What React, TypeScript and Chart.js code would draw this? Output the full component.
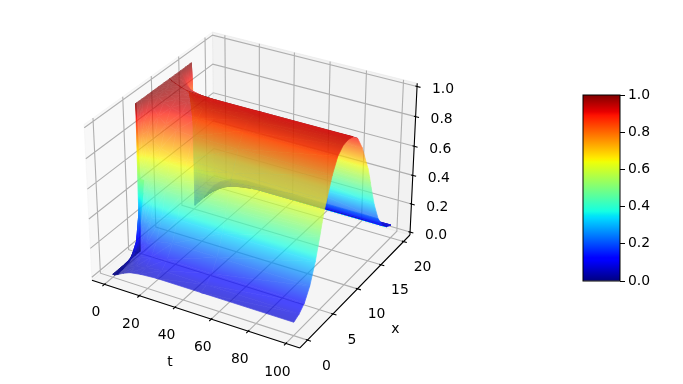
import React, { useEffect, useRef } from "react";
import { Chart, registerables } from "chart.js";

Chart.register(...registerables);

const FONT = '13.9px "DejaVu Sans"';

// axis limits and ticks
const tLimits = [-5, 105];
const xLimits = [-1, 21];
const zLimits = [0, 1];
const tTicks = [0, 20, 40, 60, 80, 100];
const xTicks = [0, 5, 10, 15, 20];
const zTicks = [0, 0.2, 0.4, 0.6, 0.8, 1.0];
const colorbarTicks = [0, 0.2, 0.4, 0.6, 0.8, 1.0];

// surface grid
const xGrid = [0, 1, 2, 3, 4, 4.8, 5, 5.2, 5.6, 6, 7, 8, 9, 10, 11, 12, 13, 14, 14.4, 14.8, 15, 15.2, 16, 17, 18, 19, 20];
const tGrid = [0, 1, 3, 6, 10, 16, 25, 50, 100];
const uT0 = [0, 0, 0, 0, 0, 0, 1, 1, 1, 1, 1, 1, 1, 1, 1, 1, 1, 1, 1, 1, 1, 0, 0, 0, 0, 0, 0];
const uT1 = [0, 0, .01, .02, .08, .35, .5, .62, .78, .86, .97, .985, .99, .99, .99, .985, .97, .86, .78, .62, .5, .35, .08, .02, .01, 0, 0];
const uT3 = [.01, .02, .03, .06, .18, .42, .5, .58, .72, .8, .93, .97, .98, .985, .98, .97, .93, .8, .72, .58, .5, .42, .18, .06, .03, .02, .01];
const uT6 = [.03, .04, .06, .11, .24, .45, .51, .57, .67, .74, .88, .945, .965, .97, .965, .945, .88, .74, .67, .57, .51, .45, .24, .11, .06, .04, .03];
const uT10 = [.05, .06, .09, .15, .29, .47, .52, .57, .65, .71, .84, .92, .95, .955, .95, .92, .84, .71, .65, .57, .52, .47, .29, .15, .09, .06, .05];
const uT16 = [.062, .075, .115, .19, .32, .48, .52, .56, .64, .69, .82, .905, .945, .95, .945, .905, .82, .69, .64, .56, .52, .48, .32, .19, .115, .075, .062];
const uT25 = [.07, .09, .13, .21, .34, .48, .52, .56, .63, .68, .81, .9, .94, .95, .94, .9, .81, .68, .63, .56, .52, .48, .34, .21, .13, .09, .07];
const uT50 = [.07, .09, .13, .21, .34, .48, .52, .56, .63, .68, .81, .9, .94, .95, .94, .9, .81, .68, .63, .56, .52, .48, .34, .21, .13, .09, .07];
const uT100 = [.07, .09, .13, .21, .34, .48, .52, .56, .63, .68, .81, .9, .94, .95, .94, .9, .81, .68, .63, .56, .52, .48, .34, .21, .13, .09, .07];
const uRows = [uT0, uT1, uT3, uT6, uT10, uT16, uT25, uT50, uT100];

// jet colormap nodes
const jetStops = [0, .11, .125, .34, .35, .375, .64, .65, .66, .89, .91, 1];
function ramp(nodes: number[][], v: number) {
  for (let i = 1; i < nodes.length; i++) {
    if (v <= nodes[i][0]) {
      const [a, b] = [nodes[i - 1], nodes[i]];
      return a[1] + ((b[1] - a[1]) * (v - a[0])) / (b[0] - a[0]);
    }
  }
  return nodes[nodes.length - 1][1];
}
function jet(v: number) {
  const r = ramp([[0, 0], [.35, 0], [.66, 1], [.89, 1], [1, .5]], v);
  const g = ramp([[0, 0], [.125, 0], [.375, 1], [.64, 1], [.91, 0], [1, 0]], v);
  const b = ramp([[0, .5], [.11, 1], [.34, 1], [.65, 0], [1, 0]], v);
  return `rgb(${Math.round(r * 255)},${Math.round(g * 255)},${Math.round(b * 255)})`;
}

// matplotlib style view: elev 30, azim -60, box 4:4:3
const W = [0.43301, -0.75, 0.5];
const U = [0.86603, 0.5, 0];
const V = [-0.25, 0.43301, 0.86603];
const BOX = [1.19048, 1.19048, 0.89286];
const frac = (v: number, l: number[]) => (v - l[0]) / (l[1] - l[0]);
const dot = (a: number[], b: number[]) => a[0] * b[0] + a[1] * b[1] + a[2] * b[2];
function fromFrac(f: number[]) {
  const q = [(f[0] - .5) * BOX[0], (f[1] - .5) * BOX[1], (f[2] - .5) * BOX[2]];
  const depth = dot(q, W);
  const d = 10 - depth;
  return { x: dot(q, U) / d, y: dot(q, V) / d, depth };
}
function project(t: number, x: number, z: number) {
  return fromFrac([frac(t, tLimits), frac(x, xLimits), frac(z, zLimits)]);
}
const LO = -1 / 48;
const HI = 49 / 48;
type P = { x: number; y: number };
const gap: P = { x: NaN, y: NaN };

function segments(list: number[][][]) {
  const out: P[] = [];
  list.forEach((path) => {
    path.forEach((f) => out.push(fromFrac(f)));
    out.push(gap);
  });
  return out;
}

function buildGrid() {
  const paths: number[][][] = [];
  tTicks.forEach((v) => { const f = frac(v, tLimits); paths.push([[f, LO, LO], [f, HI, LO], [f, HI, HI]]); });
  xTicks.forEach((v) => { const f = frac(v, xLimits); paths.push([[HI, f, LO], [LO, f, LO], [LO, f, HI]]); });
  zTicks.forEach((v) => { const f = frac(v, zLimits); paths.push([[LO, LO, f], [LO, HI, f], [HI, HI, f]]); });
  return segments(paths);
}
function buildAxes() {
  return segments([
    [[LO, LO, LO], [HI, LO, LO]],
    [[HI, LO, LO], [HI, HI, LO]],
    [[HI, HI, LO], [HI, HI, HI]],
  ]);
}
const TICK = 1 / 12;
function buildTicks() {
  const paths: number[][][] = [];
  tTicks.forEach((v) => { const f = frac(v, tLimits); paths.push([[f, LO - .2 * TICK, LO], [f, LO + .1 * TICK, LO]]); });
  xTicks.forEach((v) => { const f = frac(v, xLimits); paths.push([[HI + .2 * TICK, f, LO], [HI - .1 * TICK, f, LO]]); });
  zTicks.forEach((v) => { const f = frac(v, zLimits); paths.push([[HI + .2 * TICK, HI, f], [HI - .1 * TICK, HI, f]]); });
  return segments(paths);
}
function tickAnchor(f: number[]) {
  return fromFrac(f);
}

const panesPlugin = {
  id: "panes",
  beforeDatasetsDraw(chart: any) {
    const { ctx, scales } = chart;
    const polys: [number[][], string][] = [
      [[[LO, LO, LO], [LO, HI, LO], [LO, HI, HI], [LO, LO, HI]], "rgba(242,242,242,0.5)"],
      [[[LO, HI, LO], [HI, HI, LO], [HI, HI, HI], [LO, HI, HI]], "rgba(230,230,230,0.5)"],
      [[[LO, LO, LO], [HI, LO, LO], [HI, HI, LO], [LO, HI, LO]], "rgba(236,236,236,0.5)"],
    ];
    ctx.save();
    polys.forEach(([pts, color]) => {
      ctx.beginPath();
      pts.forEach((f, i) => {
        const p = fromFrac(f);
        const px = scales.x.getPixelForValue(p.x);
        const py = scales.y.getPixelForValue(p.y);
        if (i) ctx.lineTo(px, py); else ctx.moveTo(px, py);
      });
      ctx.closePath();
      ctx.fillStyle = color;
      ctx.fill();
      ctx.strokeStyle = color;
      ctx.lineWidth = 1;
      ctx.stroke();
    });
    ctx.restore();
  },
};

function fillTriangle(ctx: CanvasRenderingContext2D, v: { px: number; py: number; z: number }[]) {
  const [a, b, c] = v;
  const ax = b.px - a.px, ay = b.py - a.py, bx = c.px - a.px, by = c.py - a.py;
  const dz1 = b.z - a.z, dz2 = c.z - a.z;
  const det = ax * by - ay * bx;
  let style: any;
  if (Math.abs(det) < 1e-6 || (Math.abs(dz1) < 1e-6 && Math.abs(dz2) < 1e-6)) {
    style = jet((a.z + b.z + c.z) / 3);
  } else {
    const gx = (dz1 * by - dz2 * ay) / det;
    const gy = (dz2 * ax - dz1 * bx) / det;
    const n = gx * gx + gy * gy;
    const s = [a.px + ((0 - a.z) * gx) / n, a.py + ((0 - a.z) * gy) / n];
    const e = [a.px + ((1 - a.z) * gx) / n, a.py + ((1 - a.z) * gy) / n];
    const g = ctx.createLinearGradient(s[0], s[1], e[0], e[1]);
    jetStops.forEach((p) => g.addColorStop(p, jet(p)));
    style = g;
  }
  ctx.beginPath();
  ctx.moveTo(a.px, a.py);
  ctx.lineTo(b.px, b.py);
  ctx.lineTo(c.px, c.py);
  ctx.closePath();
  ctx.fillStyle = style;
  ctx.strokeStyle = style;
  ctx.lineWidth = 0.7;
  ctx.fill();
  ctx.stroke();
}

const surfacePlugin = {
  id: "surface",
  afterDatasetsDraw(chart: any) {
    const { ctx, scales, width, height } = chart;
    const vertex = (i: number, j: number) => {
      const z = uRows[i][j];
      const p = project(tGrid[i], xGrid[j], z);
      return { px: scales.x.getPixelForValue(p.x), py: scales.y.getPixelForValue(p.y), z, depth: p.depth };
    };
    const split = xGrid.indexOf(11);
    const lastRow = tGrid.length - 1;
    const lastCol = xGrid.length - 1;
    // [first col, last col, first row, last row]: edge-on parts are painted twice, as overlapping facets do
    const layers = [
      [split, lastCol, 0, lastRow],
      [xGrid.indexOf(17), lastCol, 0, lastRow],
      [0, split, 0, lastRow],
      [0, xGrid.indexOf(5), 0, tGrid.indexOf(3)],
    ];
    layers.forEach(([from, to, r0, r1]) => {
      const tris: any[] = [];
      for (let i = r0; i < r1; i++) {
        for (let j = from; j < to; j++) {
          const a = vertex(i, j), b = vertex(i + 1, j), c = vertex(i + 1, j + 1), d = vertex(i, j + 1);
          tris.push([a, b, c], [a, c, d]);
        }
      }
      tris.sort((m, n) => m[0].depth + m[1].depth + m[2].depth - n[0].depth - n[1].depth - n[2].depth);
      const off = document.createElement("canvas");
      off.width = width;
      off.height = height;
      const o = off.getContext("2d") as CanvasRenderingContext2D;
      tris.forEach((t) => fillTriangle(o, t));
      ctx.save();
      ctx.globalAlpha = 0.7;
      ctx.drawImage(off, 0, 0);
      ctx.restore();
    });
  },
};

const labelsPlugin = {
  id: "labels3d",
  afterDraw(chart: any) {
    const { ctx, scales } = chart;
    ctx.save();
    ctx.font = FONT;
    ctx.fillStyle = "#000";
    ctx.textAlign = "center";
    ctx.textBaseline = "middle";
    const put = (text: string, p: P, dx: number, dy: number) =>
      ctx.fillText(text, scales.x.getPixelForValue(p.x) + dx, scales.y.getPixelForValue(p.y) + dy);
    tTicks.forEach((v) => put(String(v), tickAnchor([frac(v, tLimits), LO, LO]), -8.5, 28.5));
    xTicks.forEach((v) => put(String(v), tickAnchor([HI, frac(v, xLimits), LO]), 19, 26));
    zTicks.forEach((v) => put(v.toFixed(1), tickAnchor([HI, HI, frac(v, zLimits)]), 26, 3));
    put("t", tickAnchor([frac(50, tLimits), LO, LO]), -23, 49);
    put("x", tickAnchor([HI, frac(10, xLimits), LO]), 38, 41);
    ctx.restore();
  },
};

const colorbarPlugin = {
  id: "colorbarFrame",
  afterDraw(chart: any) {
    const { ctx, chartArea: a } = chart;
    ctx.save();
    ctx.strokeStyle = "#000";
    ctx.lineWidth = 1;
    ctx.strokeRect(a.left, a.top, a.right - a.left, a.bottom - a.top);
    ctx.restore();
  },
};

export default function App() {
  const mainRef = useRef<HTMLCanvasElement>(null);
  const barRef = useRef<HTMLCanvasElement>(null);

  useEffect(() => {
    const vertices: P[] = [];
    tGrid.forEach((t, i) => xGrid.forEach((x, j) => {
      const p = project(t, x, uRows[i][j]);
      vertices.push({ x: p.x, y: p.y });
    }));
    const main = new Chart(mainRef.current as HTMLCanvasElement, {
      type: "scatter",
      data: {
        datasets: [
          { label: "surface", data: vertices, pointRadius: 0, showLine: false, order: 0 },
          { label: "axes", data: buildAxes(), showLine: true, pointRadius: 0, borderColor: "#000", borderWidth: 1.1, order: 1 },
          { label: "ticks", data: buildTicks(), showLine: true, pointRadius: 0, borderColor: "#000", borderWidth: 1.1, order: 2 },
          { label: "grid", data: buildGrid(), showLine: true, pointRadius: 0, borderColor: "rgb(176,176,176)", borderWidth: 1.1, order: 3 },
        ] as any,
      },
      options: {
        animation: false,
        responsive: false,
        layout: { padding: 0 },
        plugins: { legend: { display: false }, tooltip: { enabled: false } },
        scales: {
          x: { type: "linear", display: false, min: -0.13229, max: 0.22344 },
          y: { type: "linear", display: false, min: -0.10587, max: 0.09549 },
        },
      },
      plugins: [panesPlugin, surfacePlugin, labelsPlugin],
    } as any);

    const bar = new Chart(barRef.current as HTMLCanvasElement, {
      type: "bar",
      data: {
        labels: ["colorbar"],
        datasets: [{
          data: [[colorbarTicks[0], colorbarTicks[colorbarTicks.length - 1]]],
          barPercentage: 1,
          categoryPercentage: 1,
          borderWidth: 0,
          backgroundColor: (c: any) => {
            const a = c.chart.chartArea;
            if (!a) return "#000";
            const g = c.chart.ctx.createLinearGradient(0, a.bottom, 0, a.top);
            jetStops.forEach((p) => g.addColorStop(p, jet(p)));
            return g;
          },
        }] as any,
      },
      options: {
        animation: false,
        responsive: false,
        layout: { padding: { left: 23, top: 15, bottom: 14, right: 0 } },
        plugins: { legend: { display: false }, tooltip: { enabled: false } },
        scales: {
          x: { display: false },
          y: {
            position: "right",
            min: 0,
            max: 1,
            afterFit: (s: any) => { s.width = 63; },
            afterBuildTicks: (s: any) => { s.ticks = colorbarTicks.map((value) => ({ value })); },
            grid: { drawOnChartArea: false, drawTicks: true, tickLength: 5, color: "#000", lineWidth: 1 },
            border: { display: false },
            ticks: { color: "#000", font: { family: "DejaVu Sans", size: 13.9 }, padding: 3, callback: (v: any) => Number(v).toFixed(1) },
          },
        },
      },
      plugins: [colorbarPlugin],
    } as any);

    return () => {
      main.destroy();
      bar.destroy();
    };
  }, []);

  return (
    <div style={{ position: "absolute", left: 0, top: 0, width: 683, height: 384 }}>
      <canvas ref={mainRef} width={683} height={384} style={{ position: "absolute", left: 0, top: 0 }} />
      <canvas ref={barRef} width={123} height={215} style={{ position: "absolute", left: 560, top: 80 }} />
    </div>
  );
}
